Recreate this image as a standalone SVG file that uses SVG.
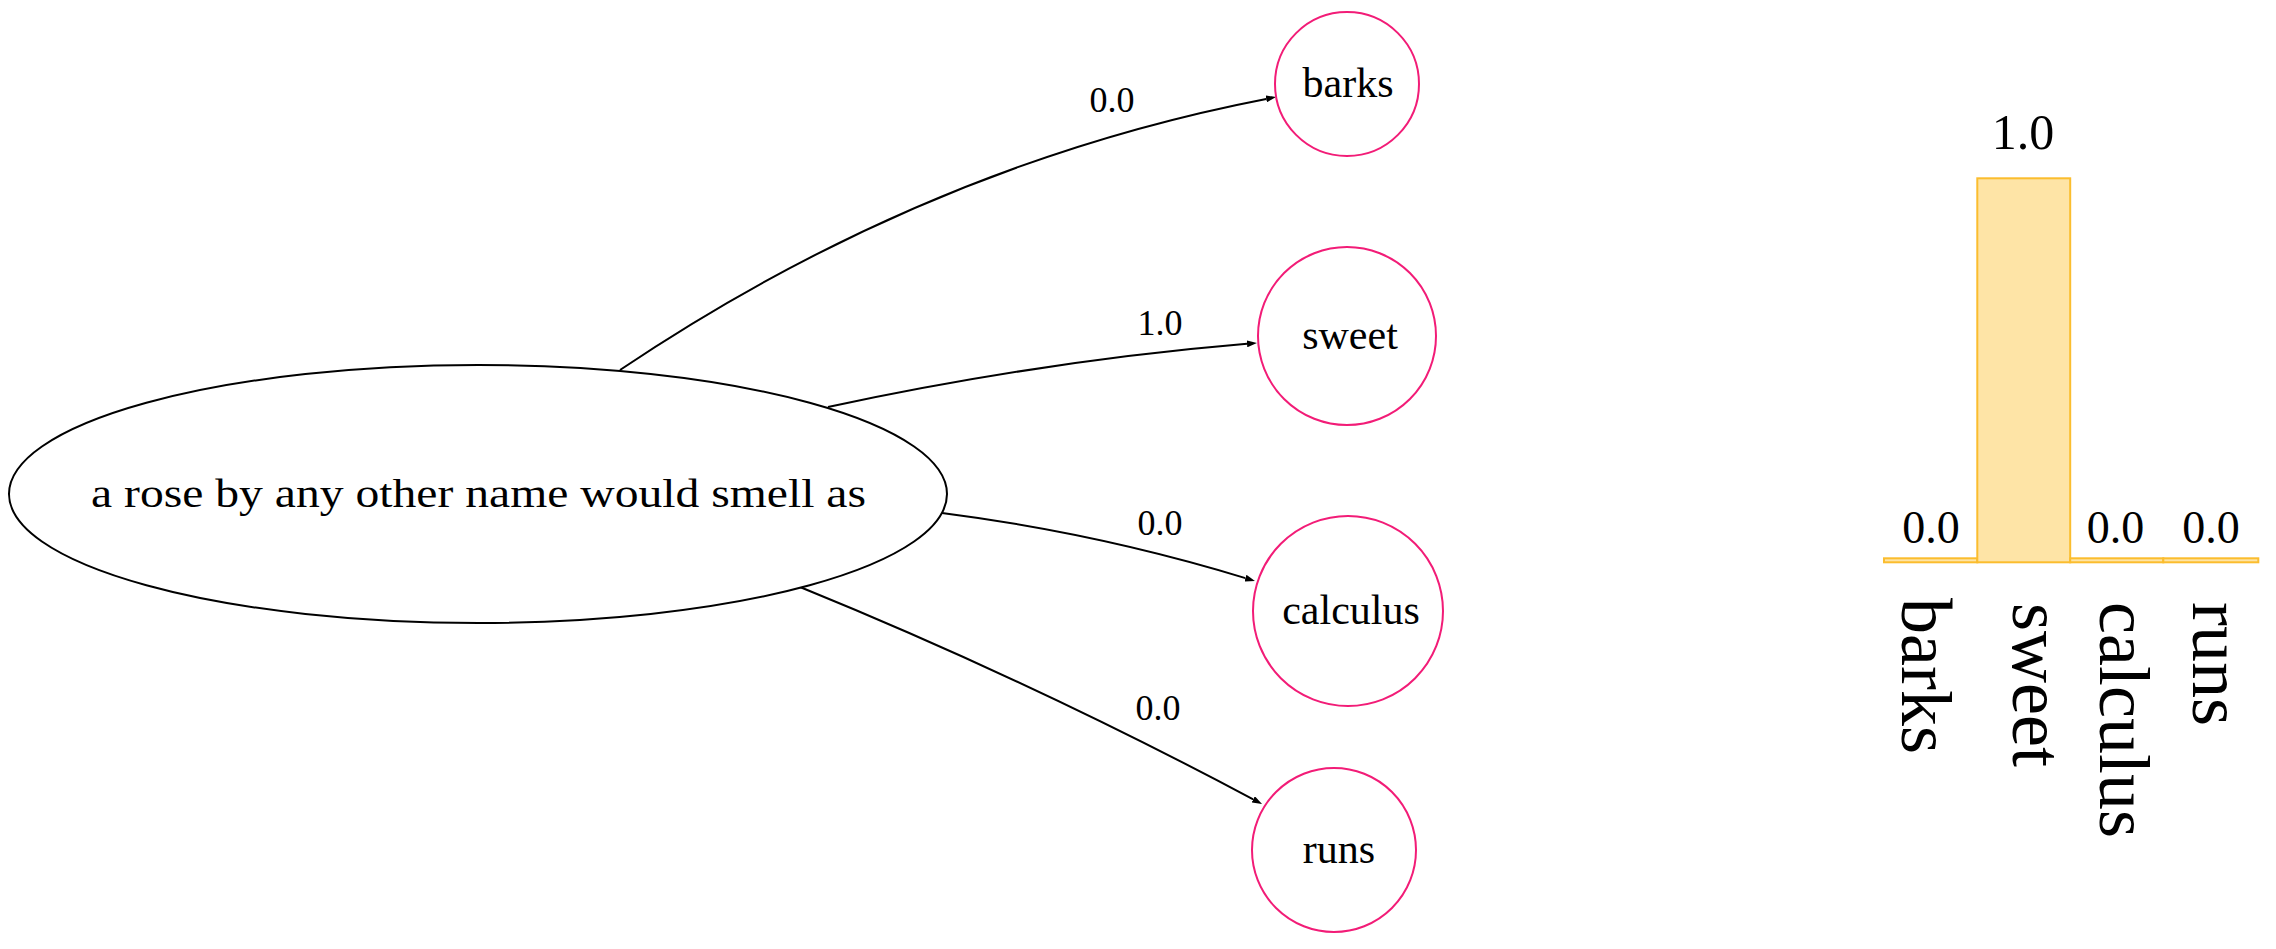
<svg xmlns="http://www.w3.org/2000/svg" width="2276" height="949" viewBox="0 0 2276 949">
<defs>
<style>
.t{font-family:"Liberation Serif","Times New Roman",serif;fill:#000}
.node{fill:#fff;stroke:#f21c77;stroke-width:2}
.src{fill:#fff;stroke:#000;stroke-width:2}
.edge{fill:none;stroke:#000;stroke-width:2}
.bar{fill:#fee4a6;stroke:#fbbd2e;stroke-width:2}
</style>
<marker id="arr" markerUnits="userSpaceOnUse" viewBox="0 0 10 7" markerWidth="10" markerHeight="7" refX="0" refY="3.5" orient="auto">
<path d="M0,0 L10,3.5 L0,7 z" fill="#000"/>
</marker>
</defs>
<rect width="2276" height="949" fill="#fff"/>
<g id="connectors">
<path class="edge" d="M620,370 Q925,165 1266.2,98.9" marker-end="url(#arr)"/>
<path class="edge" d="M828,407 Q1042,361 1247,343.8" marker-end="url(#arr)"/>
<path class="edge" d="M942,513 Q1098,533 1245.4,578.1" marker-end="url(#arr)"/>
<path class="edge" d="M800,587 Q1031,681 1253.2,799.3" marker-end="url(#arr)"/>
<text class="t" x="1112" y="112" font-size="36" text-anchor="middle">0.0</text>
<text class="t" x="1160" y="335" font-size="36" text-anchor="middle">1.0</text>
<text class="t" x="1160" y="535" font-size="36" text-anchor="middle">0.0</text>
<text class="t" x="1158" y="720" font-size="36" text-anchor="middle">0.0</text>
</g>
<g id="source">
<ellipse class="src" cx="478" cy="494" rx="469" ry="129"/>
<text class="t" x="478.5" y="507" font-size="41" text-anchor="middle" textLength="775" lengthAdjust="spacingAndGlyphs">a rose by any other name would smell as</text>
</g>
<g id="node-barks">
<circle class="node" cx="1347" cy="84" r="72"/>
<text class="t" x="1348" y="97" font-size="42" text-anchor="middle">barks</text>
</g>
<g id="node-sweet">
<circle class="node" cx="1347" cy="336" r="89"/>
<text class="t" x="1350" y="349" font-size="42" text-anchor="middle">sweet</text>
</g>
<g id="node-calculus">
<circle class="node" cx="1348" cy="611" r="95"/>
<text class="t" x="1351" y="624" font-size="42" text-anchor="middle">calculus</text>
</g>
<g id="node-runs">
<circle class="node" cx="1334" cy="850" r="82"/>
<text class="t" x="1339" y="863" font-size="42" text-anchor="middle">runs</text>
</g>
<g id="chart">
<rect class="bar" x="1884" y="558.3" width="93.3" height="4"/>
<rect class="bar" x="1977.3" y="178.3" width="92.9" height="384"/>
<rect class="bar" x="2070.2" y="558.3" width="93.1" height="4"/>
<rect class="bar" x="2163.3" y="558.3" width="95" height="4"/>
<text class="t" x="1931" y="543" font-size="46" text-anchor="middle">0.0</text>
<text class="t" x="2023" y="149" font-size="50" text-anchor="middle">1.0</text>
<text class="t" x="2115.5" y="543" font-size="46" text-anchor="middle">0.0</text>
<text class="t" x="2211" y="543" font-size="46" text-anchor="middle">0.0</text>
<text class="t" font-size="72" transform="translate(1902,598) rotate(90)">barks</text>
<text class="t" font-size="72" transform="translate(2013,603) rotate(90)">sweet</text>
<text class="t" font-size="72" transform="translate(2100,602) rotate(90)">calculus</text>
<text class="t" font-size="72" transform="translate(2193,602) rotate(90)">runs</text>
</g>
</svg>
